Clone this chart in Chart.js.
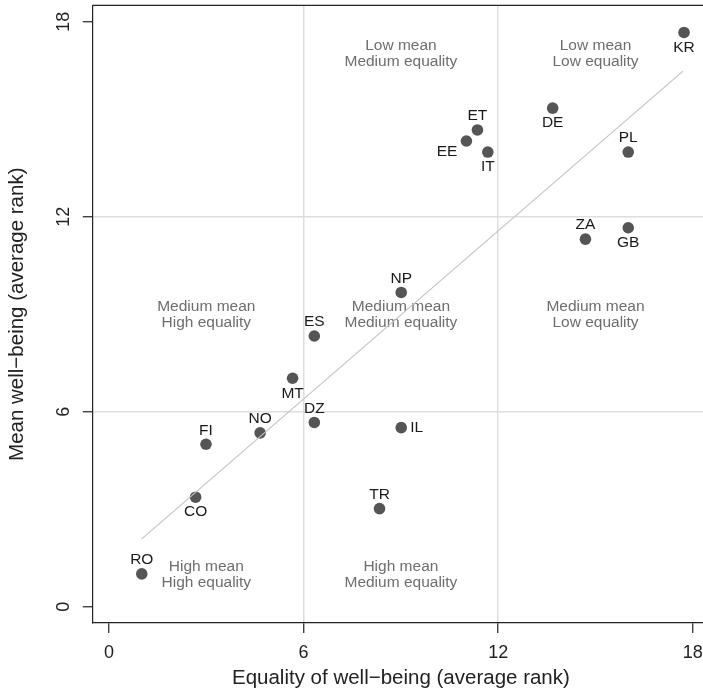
<!DOCTYPE html>
<html><head><meta charset="utf-8">
<script src="https://cdn.jsdelivr.net/npm/chart.js@4.4.0/dist/chart.umd.min.js"></script>
<style>
html,body{margin:0;padding:0;overflow:hidden;background:#fff;width:703px;height:694px}
#wrap{position:absolute;left:0;top:0;width:709px;height:694px}
</style>
</head><body><div id="wrap"><canvas id="c" width="709" height="694" style="width:709px;height:694px"></canvas></div>
<script>
// ---- data ----
const countries = ['KR','DE','ET','EE','IT','PL','ZA','GB','NP','ES','MT','DZ','IL','NO','FI','CO','TR','RO'];
const equality  = [17.73,13.68,11.36,11.02,11.68,16.01,14.69,16.01,9.01,6.33,5.66,6.33,9.01,4.66,2.99,2.67,8.34,1.01];
const meanWB    = [17.67,15.34,14.67,14.33,13.99,13.99,11.31,11.66,9.67,8.33,7.03,5.67,5.51,5.35,5.00,3.37,3.02,1.01];
const labelPos  = ['below','below','above','left','below','above','above','below','above','above','below','above','right','above','above','below','above','above'];
const trendX = [1.0, 17.7];
const trendY = [2.08, 16.48];
const tickValues = [0, 6, 12, 18];
const tickLabels = ['0', '6', '12', '18'];
const quadText = [
  ['Low mean','Medium equality'],
  ['Low mean','Low equality'],
  ['Medium mean','High equality'],
  ['Medium mean','Medium equality'],
  ['Medium mean','Low equality'],
  ['High mean','High equality'],
  ['High mean','Medium equality']
];
const quadX = [9, 15, 3, 9, 15, 3, 9];
const quadY = [17, 17, 9, 9, 9, 1, 1];
const xTitle = 'Equality of well\u2212being (average rank)';
const yTitle = 'Mean well\u2212being (average rank)';

const FONT = "'Liberation Sans', Arial, Helvetica, sans-serif";
const AXIS = '#222222';

const decor = {
  id: 'decor',
  beforeDatasetsDraw(chart) {
    const {ctx, scales: {x, y}} = chart;
    ctx.save();
    ctx.fillStyle = '#6e6e6e';
    ctx.font = '15.5px ' + FONT;
    ctx.textAlign = 'center';
    ctx.textBaseline = 'middle';
    quadText.forEach((lines, i) => {
      const px = x.getPixelForValue(quadX[i]);
      const py = y.getPixelForValue(quadY[i]);
      ctx.fillText(lines[0], px, py - 8);
      ctx.fillText(lines[1], px, py + 8);
    });
    ctx.restore();
  },
  afterDatasetsDraw(chart) {
    const {ctx, chartArea: a, scales: {x, y}} = chart;
    ctx.save();
    // top and right border of box
    ctx.strokeStyle = AXIS;
    ctx.lineWidth = 1.2;
    ctx.beginPath();
    ctx.moveTo(a.left, a.top);
    ctx.lineTo(a.right, a.top);
    ctx.lineTo(a.right, a.bottom);
    ctx.stroke();
    // point labels
    const meta = chart.getDatasetMeta(1);
    ctx.fillStyle = '#1a1a1a';
    ctx.font = '15.5px ' + FONT;
    ctx.textBaseline = 'middle';
    meta.data.forEach((pt, i) => {
      const p = labelPos[i];
      let dx = 0, dy = 0, al = 'center';
      if (p === 'above') dy = -14;
      else if (p === 'below') dy = 15;
      else if (p === 'left') { dx = -9; dy = 11; al = 'right'; }
      else if (p === 'right') { dx = 9; al = 'left'; }
      ctx.textAlign = al;
      ctx.fillText(countries[i], pt.x + dx, pt.y + dy);
    });
    // y tick labels (rotated)
    ctx.fillStyle = AXIS;
    ctx.font = '18px ' + FONT;
    ctx.textAlign = 'center';
    ctx.textBaseline = 'middle';
    tickValues.forEach((v, i) => {
      const py = y.getPixelForValue(v);
      ctx.save();
      ctx.translate(64, py);
      ctx.rotate(-Math.PI / 2);
      ctx.fillText(tickLabels[i], 0, 0);
      ctx.restore();
    });
    ctx.restore();
  }
};

const gridColor = (c) => (c.tick && (c.tick.value === 6 || c.tick.value === 12)) ? '#dedede' : 'rgba(0,0,0,0)';

new Chart(document.getElementById('c'), {
  type: 'scatter',
  data: {
    datasets: [
      {
        type: 'line',
        data: trendX.map((v, i) => ({x: v, y: trendY[i]})),
        borderColor: '#c4c4c4',
        borderWidth: 1.2,
        pointRadius: 0,
        fill: false,
        order: 0
      },
      {
        data: equality.map((v, i) => ({x: v, y: meanWB[i]})),
        backgroundColor: '#555555',
        borderColor: '#555555',
        borderWidth: 0,
        pointRadius: 5.8,
        order: 1
      }
    ]
  },
  options: {
    responsive: false,
    maintainAspectRatio: false,
    animation: false,
    events: [],
    devicePixelRatio: 1,
    layout: {padding: {top: 5.45, right: 0, left: 0, bottom: 0}, autoPadding: false},
    plugins: {legend: {display: false}, tooltip: {enabled: false}},
    scales: {
      x: {
        type: 'linear', min: -0.5, max: 18.5,
        afterBuildTicks: (s) => { s.ticks = tickValues.map(v => ({value: v})); },
        afterFit: (s) => { s.height = 71; s.paddingLeft = 0; s.paddingRight = 0; },
        grid: {color: gridColor, lineWidth: 1.5, tickColor: AXIS, tickLength: 10, tickWidth: 1.2},
        border: {display: true, color: AXIS, width: 1.2},
        ticks: {font: {family: FONT, size: 18}, color: AXIS, padding: 9, maxRotation: 0, callback: (v) => String(v)},
        title: {display: true, text: xTitle, font: {family: FONT, size: 20.5}, color: AXIS, padding: {top: 0, bottom: 3}}
      },
      y: {
        type: 'linear', min: -0.5, max: 18.5,
        afterBuildTicks: (s) => { s.ticks = tickValues.map(v => ({value: v})); },
        afterFit: (s) => { s.width = 92.8; s.paddingTop = 0; s.paddingBottom = 0; },
        grid: {color: gridColor, lineWidth: 1.5, tickColor: AXIS, tickLength: 10, tickWidth: 1.2},
        border: {display: true, color: AXIS, width: 1.2},
        ticks: {display: false},
        title: {display: true, text: yTitle, font: {family: FONT, size: 20.5}, color: AXIS, padding: {top: 5, bottom: 0}}
      }
    }
  },
  plugins: [decor]
});
</script>
</body></html>
